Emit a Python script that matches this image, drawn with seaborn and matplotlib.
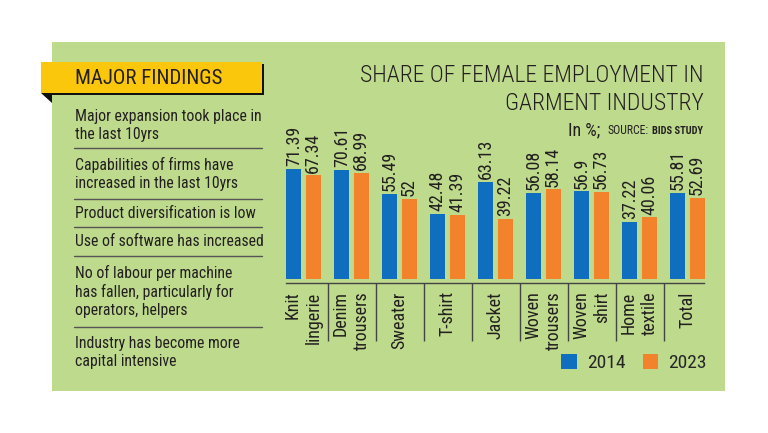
import numpy as np
import pandas as pd
import matplotlib
matplotlib.use("Agg")
import matplotlib.pyplot as plt
from matplotlib.patches import Rectangle, Polygon
import seaborn as sns

# datos
categorias = ["Knit\nlingerie", "Denim\ntrousers", "Sweater", "T-shirt", "Jacket",
              "Woven\ntrousers", "Woven\nshirt", "Home\ntextile", "Total"]
valores_2014 = [71.39, 70.61, 55.49, 42.48, 63.13, 56.08, 56.9, 37.22, 55.81]
valores_2023 = [67.34, 68.99, 52, 41.39, 39.22, 58.14, 56.73, 40.06, 52.69]
anios = ["2014", "2023"]

hallazgos = [
    "Major expansion took place in\nthe last 10yrs",
    "Capabilities of firms have\nincreased in the last 10yrs",
    "Product diversification is low",
    "Use of software has increased",
    "No of labour per machine\nhas fallen, particularly for\noperators, helpers",
    "Industry has become more\ncapital intensive",
]

titulo = "SHARE OF FEMALE EMPLOYMENT IN\nGARMENT INDUSTRY"

AZUL = "#106EBE"
NARANJA = "#F2832C"
VERDE = "#BEDA8C"
AMARILLO = "#FAC70C"
TEXTO = "#231F20"

sns.set_style("white")
plt.rcParams['font.family'] = ['Roboto Condensed', 'DejaVu Sans']

W, H = 768, 433
fig = plt.figure(figsize=(W / 100, H / 100), dpi=100)
fig.patch.set_facecolor("white")


def fx(px):
    return px / W


def fy(py):
    # coordenada de pixel desde arriba -> fraccion de figura
    return 1 - py / H


# panel verde de fondo
fig.patches.append(Rectangle((fx(52), fy(391)), fx(725 - 52), (391 - 42) / H,
                             transform=fig.transFigure, facecolor=VERDE,
                             edgecolor="none", zorder=-5))

# cinta amarilla "MAJOR FINDINGS"
fig.patches.append(Rectangle((fx(43), fy(95)), fx(262 - 41), (93 - 62) / H,
                             transform=fig.transFigure, facecolor="#111111",
                             edgecolor="none", zorder=-4))
fig.patches.append(Rectangle((fx(41), fy(93)), fx(262 - 41), (93 - 62) / H,
                             transform=fig.transFigure, facecolor=AMARILLO,
                             edgecolor="none", zorder=-3))
fig.patches.append(Polygon([(fx(41), fy(93)), (fx(52), fy(93)), (fx(52), fy(103))],
                           closed=True, transform=fig.transFigure,
                           facecolor="#111111", edgecolor="none", zorder=-4))
fig.text(fx(75), fy(78), "MAJOR FINDINGS", fontsize=15, color=TEXTO,
         va="center", ha="left")

# lista de hallazgos
centros = [125, 174, 213, 242, 291.5, 352.5]
separadores = [148, 199, 227, 256, 327]
for txt, yc in zip(hallazgos, centros):
    fig.text(fx(75), fy(yc), txt, fontsize=11.3, color=TEXTO, va="center",
             ha="left", linespacing=1.25)
for ys in separadores:
    fig.add_artist(plt.Line2D([fx(74), fx(262)], [fy(ys), fy(ys)],
                              transform=fig.transFigure, color="#555555", lw=1))

# titulo
fig.text(fx(704), fy(89.5), titulo, fontsize=17, color=TEXTO, ha="right",
         va="center", multialignment="right", linespacing=1.3, fontweight="light")
fig.text(fx(568), fy(130), "In %;", fontsize=13, color=TEXTO, ha="left", va="center")
fig.text(fx(607), fy(131), "SOURCE:", fontsize=8.5, color=TEXTO, ha="left", va="center")
fig.text(fx(703), fy(131), "BIDS STUDY", fontsize=7.5, color=TEXTO, ha="right",
         va="center", fontweight="bold")

# grafico de barras
df = pd.DataFrame({
    "categoria": categorias * 2,
    "valor": valores_2014 + valores_2023,
    "anio": [anios[0]] * len(categorias) + [anios[1]] * len(categorias),
})

ax = fig.add_axes([fx(279.5), fy(283), fx(432), (283 - 105) / H])
ax.set_facecolor("none")
sns.barplot(data=df, x="categoria", y="valor", hue="anio",
            palette=[AZUL, NARANJA], width=0.8, gap=0.22, ax=ax,
            saturation=1, legend=True, linewidth=0, edgecolor="none")
ax.set_ylim(-2.6, 113)
ax.set_xlim(-0.5, len(categorias) - 0.5)

for cont in ax.containers:
    ax.bar_label(cont, fmt="{:g}", rotation=90, padding=2, fontsize=13, color=TEXTO)

ax.set_xticks(range(len(categorias)))
ax.set_xticklabels(categorias, rotation=90, fontsize=13, color=TEXTO,
                   multialignment="right")
ax.tick_params(axis="x", length=0, pad=6)
ax.set_yticks([])
ax.set_xlabel("")
ax.set_ylabel("")
for s in ["left", "right", "top"]:
    ax.spines[s].set_visible(False)
ax.spines["bottom"].set_bounds(-0.36, len(categorias) - 0.66)
ax.spines["bottom"].set_color("#444444")
ax.spines["bottom"].set_linewidth(1)

# separadores verticales entre categorias
limites = np.arange(0.5, len(categorias) - 1, 1.0)
ax.vlines(limites, -2.6, -40, color="#444444", lw=1, clip_on=False)

sns.move_legend(ax, "center", bbox_to_anchor=(fx(634), fy(363)),
                bbox_transform=fig.transFigure, ncol=2, title=None,
                frameon=False, fontsize=14, handlelength=0.8, handleheight=0.8,
                columnspacing=0.9, handletextpad=0.5)
for h in ax.get_legend().legend_handles:
    h.set_edgecolor("none")

fig.savefig("out.png", dpi=100, facecolor=fig.get_facecolor())
